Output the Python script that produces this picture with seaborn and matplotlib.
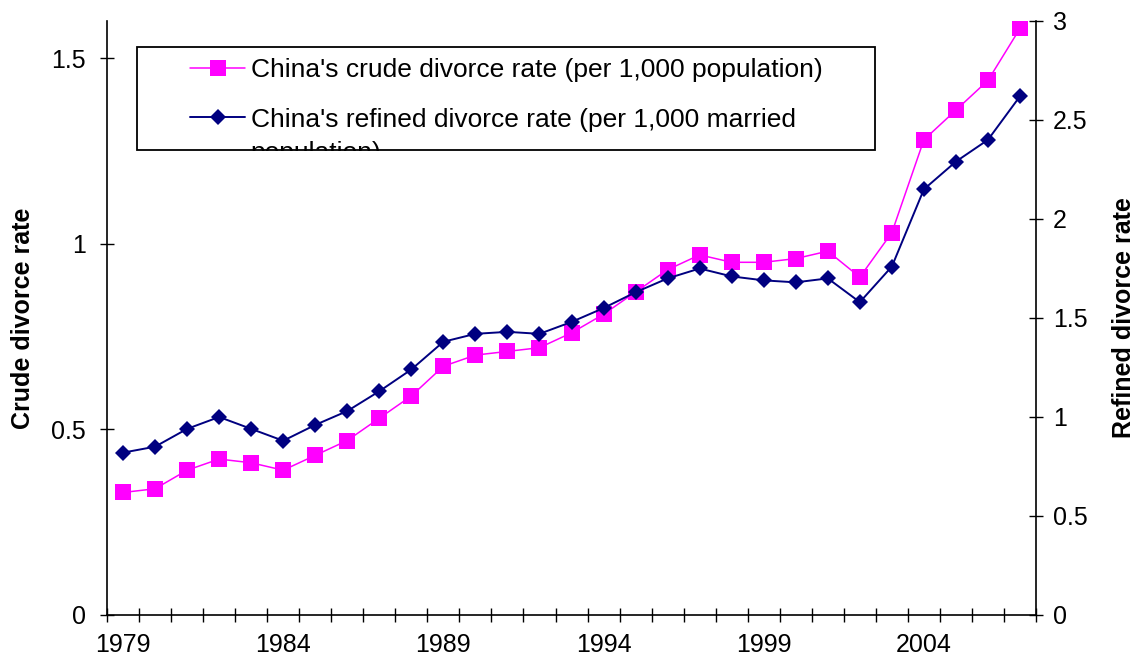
import numpy as np
import matplotlib
matplotlib.use("Agg")
import matplotlib.pyplot as plt
import matplotlib.ticker as mticker
from matplotlib.patches import Rectangle
import seaborn as sns

# data
years = list(range(1979, 2008))
crude_rate = [0.33, 0.34, 0.39, 0.42, 0.41, 0.39, 0.43, 0.47, 0.53, 0.59,
              0.67, 0.70, 0.71, 0.72, 0.76, 0.81, 0.87, 0.93, 0.97, 0.95,
              0.95, 0.96, 0.98, 0.91, 1.03, 1.28, 1.36, 1.44, 1.58]
refined_rate = [0.82, 0.85, 0.94, 1.00, 0.94, 0.88, 0.96, 1.03, 1.13, 1.24,
                1.38, 1.42, 1.43, 1.42, 1.48, 1.55, 1.63, 1.70, 1.75, 1.71,
                1.69, 1.68, 1.70, 1.58, 1.76, 2.15, 2.29, 2.40, 2.62]
year_labels = [1979, 1984, 1989, 1994, 1999, 2004]
left_ticks = [0, 0.5, 1, 1.5]
right_ticks = [0, 0.5, 1, 1.5, 2, 2.5, 3]

crude_label = "China's crude divorce rate (per 1,000 population)"
refined_label = "China's refined divorce rate (per 1,000 married"
refined_label_rest = "population)"

sns.set_style("ticks")
plt.rcParams['font.family'] = ['Liberation Sans', 'DejaVu Sans']
plt.rcParams['text.color'] = 'black'
plt.rcParams['axes.labelcolor'] = 'black'
plt.rcParams['xtick.color'] = 'black'
plt.rcParams['ytick.color'] = 'black'

fig = plt.figure(figsize=(11.36, 6.64), dpi=100)
ax = fig.add_axes([0.0942, 0.0738, 0.8178, 0.8946])
ax2 = ax.twinx()

sns.lineplot(x=years, y=crude_rate, ax=ax, color='#FF00FF', linewidth=1.1,
             marker='s', markersize=11, markeredgewidth=0,
             markeredgecolor='#FF00FF', legend=False)
sns.lineplot(x=years, y=refined_rate, ax=ax2, color='#000080', linewidth=1.4,
             marker='D', markersize=8.5, markeredgewidth=0,
             markeredgecolor='#000080', legend=False)

ax.set_xlim(1978.5, 2007.5)
ax.set_ylim(0, 1.6)
ax2.set_ylim(0, 3)

ax.set_xticks(year_labels)
ax.set_xticks(np.arange(1978.5, 2008, 1), minor=True)
ax.set_yticks(left_ticks)
ax2.set_yticks(right_ticks)
fmt = mticker.FuncFormatter(lambda v, p: f"{v:g}")
ax.yaxis.set_major_formatter(fmt)
ax2.yaxis.set_major_formatter(fmt)

ax.tick_params(axis='x', which='major', length=0, pad=13, labelsize=18,
               labelcolor='black')
ax.tick_params(axis='x', which='minor', direction='inout', length=10,
               width=1, color='black')
ax.tick_params(axis='y', direction='inout', length=10, width=1, pad=10,
               labelsize=18, color='black', labelcolor='black')
ax2.tick_params(axis='y', direction='inout', length=10, width=1, pad=7,
                labelsize=18, color='black', labelcolor='black')

for a in (ax, ax2):
    a.spines['top'].set_visible(False)
    for s in ('left', 'right', 'bottom'):
        a.spines[s].set_color('black')
        a.spines[s].set_linewidth(1.2)
ax.spines['right'].set_visible(False)
ax2.spines['left'].set_visible(False)
ax2.spines['bottom'].set_visible(False)

ax.set_ylabel('Crude divorce rate', fontsize=18, fontweight='bold',
              labelpad=12, color='black')
ax2.set_ylabel('Refined divorce rate', fontsize=18, fontweight='bold',
               rotation=90, labelpad=18, color='black')

# legend box, cut off at the bottom like the original
box_x, box_y, box_w, box_h = 0.0323, 0.7828, 0.7944, 0.1739
box = Rectangle((box_x, box_y), box_w, box_h, transform=ax2.transAxes,
                facecolor='white', edgecolor='black', linewidth=1.3, zorder=4)
ax2.add_patch(box)
handles = [ax.lines[0], ax2.lines[0]]
leg = ax2.legend(handles, [crude_label, refined_label], loc='upper left',
                 bbox_to_anchor=(0.0893, 0.9376), frameon=False, fontsize=19,
                 handlelength=2.1, handletextpad=0.2, labelspacing=0.97,
                 borderpad=0, borderaxespad=0)
for t in leg.get_texts():
    t.set_color('black')
leg.set_zorder(5)
ax2.text(0.154, (615 - 160) / 594, refined_label_rest, transform=ax2.transAxes,
         fontsize=19, va='baseline', ha='left', zorder=4.5, color='black')
# white strip hiding the overflowing part of the text
cover = Rectangle((box_x + 0.05, box_y - 0.05), 0.3, 0.05 - 0.0015,
                  transform=ax2.transAxes, facecolor='white', edgecolor='none',
                  zorder=4.8)
ax2.add_patch(cover)

fig.savefig('out.png', dpi=100)
